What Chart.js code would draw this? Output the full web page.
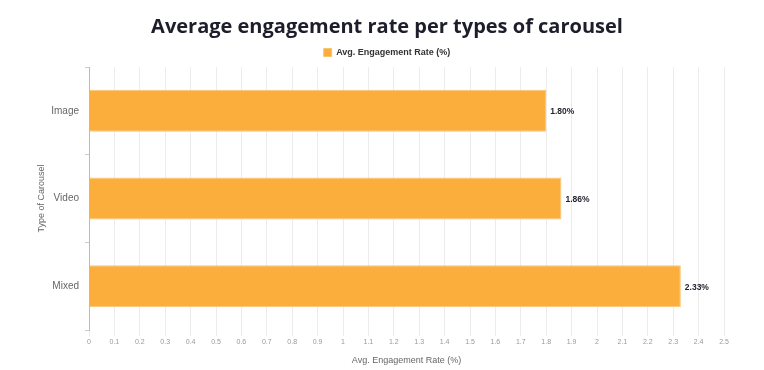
<!DOCTYPE html>
<html>
<head>
<meta charset="utf-8">
<script src="https://cdn.jsdelivr.net/npm/chart.js@4.4.0/dist/chart.umd.min.js"></script>
<style>
  html, body { margin: 0; padding: 0; background: #fff; }
  #wrap { width: 764px; height: 370px; position: relative; }
</style>
</head>
<body>
<div id="wrap"><canvas id="grafico"></canvas></div>
<script>
// Datos del gráfico
const categorias = ['Image', 'Video', 'Mixed'];
const tasaEngagement = [1.80, 1.86, 2.33];
const etiquetasValor = ['1.80%', '1.86%', '2.33%'];
const nombreSerie = 'Avg. Engagement Rate (%)';

const colorBarra = '#FBAE3C';
const fuente = '"Liberation Sans", Arial, sans-serif';

// Plugin para escribir el valor al final de cada barra
const pluginEtiquetas = {
    id: 'etiquetasValor',
    afterDatasetsDraw(chart) {
        const ctx = chart.ctx;
        const meta = chart.getDatasetMeta(0);
        ctx.save();
        ctx.font = 'bold 8.5px ' + fuente;
        ctx.fillStyle = '#1f1f2e';
        ctx.textAlign = 'left';
        ctx.textBaseline = 'middle';
        meta.data.forEach((barra, i) => {
            ctx.fillText(etiquetasValor[i], barra.x + 4, barra.y + 1);
        });
        ctx.restore();
    }
};

new Chart(document.getElementById('grafico'), {
    type: 'bar',
    data: {
        labels: categorias,
        datasets: [{
            label: nombreSerie,
            data: tasaEngagement,
            backgroundColor: colorBarra,
            borderColor: '#FCC36E',
            borderWidth: 1,
            barPercentage: 0.48,
            categoryPercentage: 1
        }]
    },
    options: {
        indexAxis: 'y',
        responsive: true,
        maintainAspectRatio: false,
        animation: false,
        layout: { padding: { left: 10, right: 0, top: 7, bottom: 0 } },
        plugins: {
            title: {
                display: true,
                text: 'Average engagement rate per types of carousel',
                color: '#1d1d2b',
                font: { family: '"Open Sans", sans-serif', size: 20, weight: '700' },
                padding: { top: 8, bottom: 0 }
            },
            legend: {
                display: true,
                labels: {
                    boxWidth: 8,
                    boxHeight: 8,
                    padding: 9,
                    color: '#333',
                    font: { family: fuente, size: 9, weight: 'bold' }
                }
            },
            tooltip: { enabled: false }
        },
        scales: {
            x: {
                min: 0,
                max: 2.5,
                ticks: {
                    stepSize: 0.1,
                    color: '#999',
                    font: { family: fuente, size: 7 },
                    padding: 2,
                    callback: (valor) => String(Number(valor.toFixed(1)))
                },
                grid: { color: '#ececec', tickLength: 6 },
                border: { display: false },
                title: {
                    display: true,
                    text: 'Avg. Engagement Rate (%)',
                    color: '#666',
                    font: { family: fuente, size: 9 },
                    padding: { top: 6 }
                },
                afterFit(escala) { escala.height = 40; }
            },
            y: {
                ticks: {
                    color: '#666',
                    font: { family: fuente, size: 10 },
                    padding: 6
                },
                grid: { drawOnChartArea: false, tickLength: 4, color: '#ccc' },
                border: { color: '#bbb', dash: [2, 2] },
                title: {
                    display: true,
                    text: 'Type of Carousel',
                    color: '#666',
                    font: { family: fuente, size: 9 },
                    padding: { top: 26, bottom: 4 }
                },
                afterFit(escala) { escala.width = 79; }
            },
            // eje vacío a la derecha para dejar el margen sin mover el título
            margen: {
                axis: 'y',
                position: 'right',
                display: true,
                ticks: { display: false },
                grid: { display: false },
                border: { display: false },
                afterFit(escala) { escala.width = 40; }
            }
        }
    },
    plugins: [pluginEtiquetas]
});
</script>
</body>
</html>
